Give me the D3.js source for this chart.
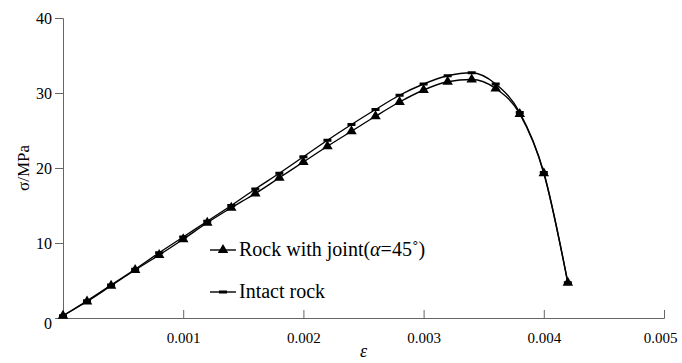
<!DOCTYPE html>
<html>
<head>
<meta charset="utf-8">
<script src="https://cdn.jsdelivr.net/npm/d3@7/dist/d3.min.js"></script>
<style>
  body { margin: 0; background: #fff; }
</style>
</head>
<body>
<svg id="chart" width="682" height="363"></svg>
<script>
// strain values (shared by both curves)
const strain = [0, 0.0002, 0.0004, 0.0006, 0.0008, 0.001, 0.0012, 0.0014, 0.0016, 0.0018, 0.002,
    0.0022, 0.0024, 0.0026, 0.0028, 0.003, 0.0032, 0.0034, 0.0036, 0.0038, 0.004, 0.0042];
const jointStress = [0.3, 2.2, 4.3, 6.4, 8.4, 10.5, 12.7, 14.7, 16.6, 18.7, 20.8,
    22.9, 24.9, 26.9, 28.8, 30.4, 31.5, 31.8, 30.6, 27.2, 19.3, 4.7];
const intactStress = [0.3, 2.3, 4.4, 6.5, 8.7, 10.8, 12.9, 15.0, 17.2, 19.3, 21.5,
    23.7, 25.8, 27.8, 29.7, 31.2, 32.3, 32.7, 31.2, 27.4, 19.4, 4.7];
const xTicks = [0.001, 0.002, 0.003, 0.004, 0.005];
const yTicks = [0, 10, 20, 30, 40];

const serif = "'Liberation Serif', 'Times New Roman', 'DejaVu Serif', serif";
const svg = d3.select("#chart").attr("font-family", serif);
const margin = { left: 63, right: 18, top: 18, bottom: 45 };
const width = 682, height = 363;

const x = d3.scaleLinear().domain([0, 0.005]).range([margin.left, width - margin.right]);
const y = d3.scaleLinear().domain([0, 40]).range([height - margin.bottom, margin.top]);

const axisColor = "#666";

// x axis (ticks pointing up)
const xAxis = svg.append("g").attr("transform", `translate(0,${y(0)})`)
    .call(d3.axisBottom(x).tickValues(xTicks).tickSize(-8).tickPadding(14)
        .tickFormat(d3.format(".3f")));
xAxis.attr("font-family", null);
xAxis.select(".domain").attr("stroke", axisColor);
xAxis.selectAll(".tick line").attr("stroke", axisColor);
xAxis.selectAll("text").style("font-size", "15px").attr("dy", "0.71em");
xAxis.selectAll(".tick").filter(d => d === 0.005).select("text").attr("dx", -4);

// y axis
const yAxis = svg.append("g").attr("transform", `translate(${x(0)},0)`)
    .call(d3.axisLeft(y).tickValues(yTicks).tickSize(8).tickPadding(3));
yAxis.attr("font-family", null);
yAxis.select(".domain").attr("stroke", axisColor);
yAxis.selectAll(".tick line").attr("stroke", axisColor);
yAxis.selectAll("text").style("font-size", "16px");
yAxis.selectAll(".tick").filter(d => d === 0).select("text").attr("dy", "0.65em");

// axis titles
svg.append("text")
    .attr("transform", `translate(29,${y(20)}) rotate(-90)`)
    .attr("text-anchor", "middle")
    .style("font-size", "17px")
    .text("σ/MPa");
svg.append("text")
    .attr("x", x(0.0025)).attr("y", 357)
    .attr("text-anchor", "middle")
    .style("font-size", "18px").style("font-style", "italic")
    .text("ε");

const line = d3.line().curve(d3.curveMonotoneX);

const jointPts = strain.map((s, i) => [x(s), y(jointStress[i])]);
const intactPts = strain.map((s, i) => [x(s), y(intactStress[i])]);

svg.append("path").attr("d", line(intactPts))
    .attr("fill", "none").attr("stroke", "#000").attr("stroke-width", 1.4);
svg.append("path").attr("d", line(jointPts))
    .attr("fill", "none").attr("stroke", "#000").attr("stroke-width", 1.4);

const tri = d3.symbol().type(d3.symbolTriangle).size(48);

svg.selectAll(".intactMark").data(intactPts).enter()
    .append("rect").attr("class", "intactMark")
    .attr("x", d => d[0] - 4).attr("y", d => d[1] - 1.5)
    .attr("width", 8).attr("height", 3).attr("fill", "#000");

svg.selectAll(".jointMark").data(jointPts).enter()
    .append("path").attr("class", "jointMark")
    .attr("transform", d => `translate(${d[0]},${d[1]})`)
    .attr("d", tri).attr("fill", "#000");

// legend
const legend = [
    { y: 250, marker: "tri" },
    { y: 292, marker: "dash" }
];
legend.forEach(l => {
    svg.append("line").attr("x1", 210).attr("x2", 236).attr("y1", l.y).attr("y2", l.y)
        .attr("stroke", "#000").attr("stroke-width", 1.4);
    if (l.marker === "tri") {
        svg.append("path").attr("transform", `translate(223,${l.y})`).attr("d", tri).attr("fill", "#000");
    } else {
        svg.append("rect").attr("x", 219).attr("y", l.y - 1.5).attr("width", 8).attr("height", 3).attr("fill", "#000");
    }
});
const t1 = svg.append("text").attr("x", 239).attr("y", 256).style("font-size", "20px");
t1.append("tspan").text("Rock with joint(");
t1.append("tspan").style("font-style", "italic").text("α");
t1.append("tspan").text("=45˚)");
svg.append("text").attr("x", 239).attr("y", 298).style("font-size", "20px").text("Intact rock");

svg.selectAll("text").style("font-family", serif).attr("fill", "#000");
</script>
</body>
</html>
